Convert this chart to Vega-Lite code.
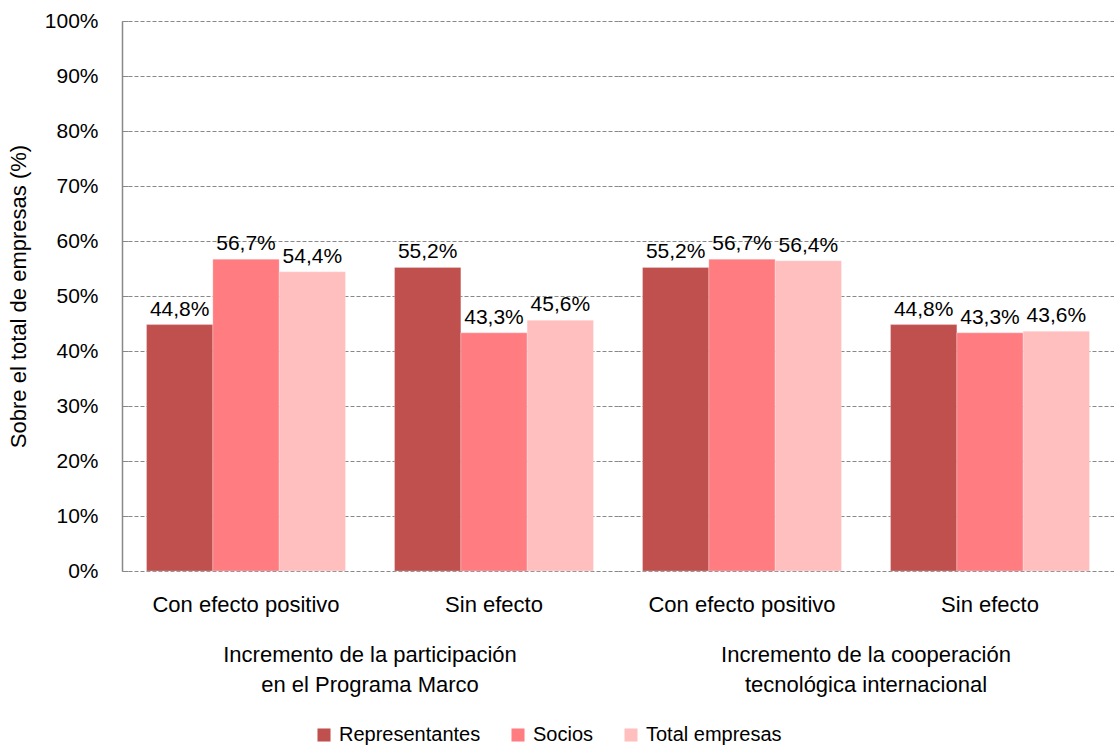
{
  "$schema": "https://vega.github.io/schema/vega-lite/v6.json",
  "padding": {"left": 7, "top": 10, "right": 0, "bottom": 0},
  "config": {
    "font": "Liberation Sans",
    "locale": {"number": {"decimal": ",", "thousands": ".", "grouping": [3], "currency": ["", " €"]}},
    "view": {"stroke": null},
    "facet": {"spacing": 0},
    "axis": {"labelFont": "Liberation Sans", "titleFont": "Liberation Sans", "labelFontSize": 22, "titleFontSize": 22, "labelColor": "#000", "titleColor": "#000", "titleFontWeight": "normal"}
  },
  "data": {"values": [
    {"grupo": "Incremento de la participación|en el Programa Marco", "cat": "Con efecto positivo", "serie": "Representantes", "v": 0.448},
    {"grupo": "Incremento de la participación|en el Programa Marco", "cat": "Con efecto positivo", "serie": "Socios", "v": 0.567},
    {"grupo": "Incremento de la participación|en el Programa Marco", "cat": "Con efecto positivo", "serie": "Total empresas", "v": 0.544},
    {"grupo": "Incremento de la participación|en el Programa Marco", "cat": "Sin efecto", "serie": "Representantes", "v": 0.552},
    {"grupo": "Incremento de la participación|en el Programa Marco", "cat": "Sin efecto", "serie": "Socios", "v": 0.433},
    {"grupo": "Incremento de la participación|en el Programa Marco", "cat": "Sin efecto", "serie": "Total empresas", "v": 0.456},
    {"grupo": "Incremento de la cooperación|tecnológica internacional", "cat": "Con efecto positivo", "serie": "Representantes", "v": 0.552},
    {"grupo": "Incremento de la cooperación|tecnológica internacional", "cat": "Con efecto positivo", "serie": "Socios", "v": 0.567},
    {"grupo": "Incremento de la cooperación|tecnológica internacional", "cat": "Con efecto positivo", "serie": "Total empresas", "v": 0.564},
    {"grupo": "Incremento de la cooperación|tecnológica internacional", "cat": "Sin efecto", "serie": "Representantes", "v": 0.448},
    {"grupo": "Incremento de la cooperación|tecnológica internacional", "cat": "Sin efecto", "serie": "Socios", "v": 0.433},
    {"grupo": "Incremento de la cooperación|tecnológica internacional", "cat": "Sin efecto", "serie": "Total empresas", "v": 0.436}
  ]},
  "facet": {
    "column": {
      "field": "grupo", "type": "nominal",
      "sort": ["Incremento de la participación|en el Programa Marco", "Incremento de la cooperación|tecnológica internacional"],
      "header": {"title": null, "labelOrient": "bottom", "labelFont": "Liberation Sans", "labelFontSize": 22, "labelColor": "#000", "labelExpr": "split(datum.value, '|')", "labelLineHeight": 30, "labelPadding": 30}
    }
  },
  "spec": {
    "width": 496,
    "height": 550,
    "encoding": {
      "x": {"field": "cat", "type": "nominal", "sort": ["Con efecto positivo", "Sin efecto"], "title": null,
        "scale": {"paddingInner": 0, "paddingOuter": 0},
        "axis": {"labelAngle": 0, "domain": false, "ticks": false, "labelPadding": 22, "grid": false, "labelLimit": 0}},
      "xOffset": {"field": "serie", "type": "nominal", "sort": ["Representantes", "Socios", "Total empresas"], "scale": {"paddingOuter": 0.37, "paddingInner": 0}},
      "y": {"field": "v", "type": "quantitative", "title": "Sobre el total de empresas (%)",
        "scale": {"domain": [0, 1]},
        "axis": {"format": ".0%", "values": [0,0.1,0.2,0.3,0.4,0.5,0.6,0.7,0.8,0.9,1], "labelOverlap": false, "labelFontSize": 21, "gridColor": "#888", "gridDash": [4, 2], "gridWidth": 1, "domainColor": "#888", "domainWidth": 1.5, "tickColor": "#888", "tickSize": -6, "labelPadding": 30, "titlePadding": 14}}
    },
    "layer": [
      {"mark": {"type": "bar", "stroke": "#ffffff", "strokeWidth": 0.5, "strokeOpacity": 0.5},
       "encoding": {"color": {"field": "serie", "type": "nominal", "sort": ["Representantes", "Socios", "Total empresas"],
         "scale": {"domain": ["Representantes", "Socios", "Total empresas"], "range": ["#C0504D", "#FF7C80", "#FFBFBF"]},
         "legend": {"title": null, "orient": "none", "legendX": 192, "legendY": 704, "direction": "horizontal", "symbolType": "square", "symbolSize": 170, "symbolStrokeWidth": 0, "labelFontSize": 20, "labelFont": "Liberation Sans", "labelColor": "#000", "columnPadding": 27, "labelOffset": 5, "symbolOpacity": 1}}}},
      {"mark": {"type": "text", "baseline": "bottom", "dy": -5, "fontSize": 21, "font": "Liberation Sans", "color": "#000"},
       "encoding": {"text": {"field": "v", "type": "quantitative", "format": ".1%"}}}
    ]
  }
}
